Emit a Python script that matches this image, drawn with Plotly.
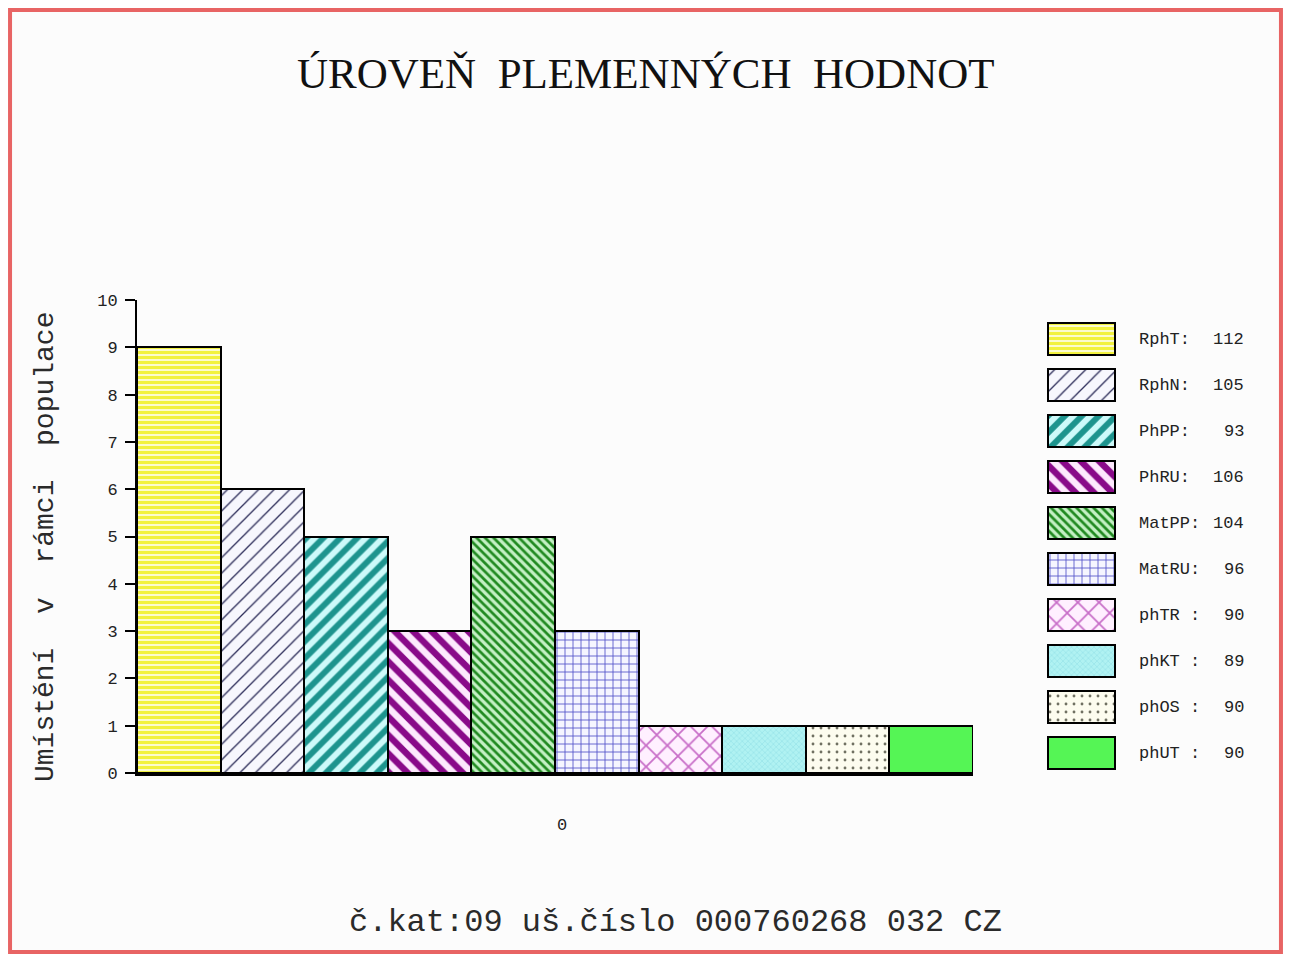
import plotly.graph_objects as go

# ---------------- data ----------------
series = ["RphT", "RphN", "PhPP", "PhRU", "MatPP", "MatRU", "phTR", "phKT", "phOS", "phUT"]
placement = [9, 6, 5, 3, 5, 3, 1, 1, 1, 1]          # Umístění v rámci populace
breeding_values = [112, 105, 93, 106, 104, 96, 90, 89, 90, 90]
legend_names = ["RphT:", "RphN:", "PhPP:", "PhRU:", "MatPP:", "MatRU:", "phTR :", "phKT :", "phOS :", "phUT :"]
category = [0]
category_labels = ["0"]
y_ticks = [0, 1, 2, 3, 4, 5, 6, 7, 8, 9, 10]

title_text = "ÚROVEŇ  PLEMENNÝCH  HODNOT"
ytitle_text = "Umístění  v  rámci  populace"
footer_text = "č.kat:09 uš.číslo 000760268 032 CZ"

# ---------------- styles ----------------
pat_shape = ["-", "/", "/", "\\", "\\", "+", "x", "x", ".", ""]
pat_fg = ["#f2f240", "#2e2e5a", "#1d948e", "#890a89", "#218a21", "#5050c8", "#c86ec8", "#8fdfe6", "#707062", "#55f555"]
pat_bg = ["#ffffff", "#f7f7fd", "#cdfafa", "#fde9fd", "#c4f0c4", "#f5f5ff", "#fff0ff", "#b0f2f2", "#fdfcef", "#55f555"]
pat_size = [5, 11, 12, 13, 6, 8, 15, 4, 8, 8]
pat_sol = [0.7, 0.12, 0.5, 0.5, 0.45, 0.2, 0.22, 0.25, 0.1, 0.3]

W, H, OFF = 1275, 946, 8
def fx(px):
    return (px - OFF) / W
def fy(py):
    return 1 - (py - OFF) / H

MONO = "Liberation Mono"
TXT = "#222222"

def marker_for(i):
    return dict(color=pat_bg[i],
                pattern=dict(shape=pat_shape[i], fgcolor=pat_fg[i], bgcolor=pat_bg[i],
                             size=pat_size[i], solidity=pat_sol[i], fillmode="replace"),
                line=dict(color="black", width=2))

fig = go.Figure()

for i, name in enumerate(series):
    fig.add_trace(go.Bar(
        x=category, y=[placement[i]], name=name, showlegend=False,
        marker=marker_for(i), xaxis="x", yaxis="y", hoverinfo="name+y"))

# legend swatches drawn as a small horizontal bar chart
for i, name in enumerate(series):
    fig.add_trace(go.Bar(
        y=[name], x=[1], orientation="h", width=0.7, offset=-0.35, showlegend=False,
        marker=marker_for(i), xaxis="x2", yaxis="y2", hoverinfo="y"))

annotations = [
    dict(text=title_text, x=fx(646), y=fy(73), xref="paper", yref="paper", showarrow=False,
         font=dict(family="Liberation Serif", size=43, color="#111"), xanchor="center", yanchor="middle"),
    dict(text=ytitle_text, x=fx(45), y=fy(547), xref="paper", yref="paper", showarrow=False, textangle=-90,
         font=dict(family=MONO, size=28, color="#2a2a2a"), xanchor="center", yanchor="middle"),
    dict(text=footer_text, x=fx(675), y=fy(922), xref="paper", yref="paper", showarrow=False,
         font=dict(family=MONO, size=32, color="#2a2a2a"), xanchor="center", yanchor="middle"),
]
for i, name in enumerate(series):
    annotations.append(dict(text=legend_names[i], x=fx(1137), y=name, xref="paper", yref="y2",
                            showarrow=False, xanchor="left", yanchor="middle",
                            font=dict(family=MONO, size=17, color=TXT)))
    annotations.append(dict(text=str(breeding_values[i]), x=fx(1246), y=name, xref="paper", yref="y2",
                            showarrow=False, xanchor="right", yanchor="middle",
                            font=dict(family=MONO, size=17, color=TXT)))

fig.update_layout(
    width=W, height=H, template="none",
    margin=dict(l=0, r=0, t=0, b=0, autoexpand=False),
    paper_bgcolor="#fcfcfc", plot_bgcolor="rgba(0,0,0,0)",
    barmode="group", bargap=0, bargroupgap=0,
    showlegend=False,
    xaxis=dict(domain=[fx(137), fx(973)], range=[-0.5, 0.5], anchor="y",
               tickvals=category, ticktext=category_labels, ticks="", showgrid=False, zeroline=False,
               showline=True, linecolor="black", linewidth=3, automargin=False,
               ticklabelstandoff=34, ticklabelshift=7, tickfont=dict(family=MONO, size=17, color=TXT)),
    yaxis=dict(domain=[fy(773), fy(300)], range=[0, 10], anchor="x",
               tickvals=y_ticks, ticks="outside", ticklen=10, tickwidth=2, tickcolor="black",
               showgrid=False, zeroline=False, showline=True, linecolor="black", linewidth=2,
               automargin=False, ticklabelstandoff=4, tickfont=dict(family=MONO, size=17, color=TXT)),
    xaxis2=dict(domain=[fx(1046), fx(1117)], range=[-0.03, 1.03], anchor="y2", visible=False),
    yaxis2=dict(domain=[fy(776), fy(316)], anchor="x2", visible=False, type="category",
                categoryorder="array", categoryarray=series, autorange="reversed"),
    annotations=annotations,
    shapes=[dict(type="rect", xref="paper", yref="paper", x0=0.0016, x1=0.9984, y0=0.002, y1=0.998,
                 line=dict(color="#e86464", width=4), fillcolor="rgba(0,0,0,0)", layer="above")],
)

fig.write_html("out.html")
